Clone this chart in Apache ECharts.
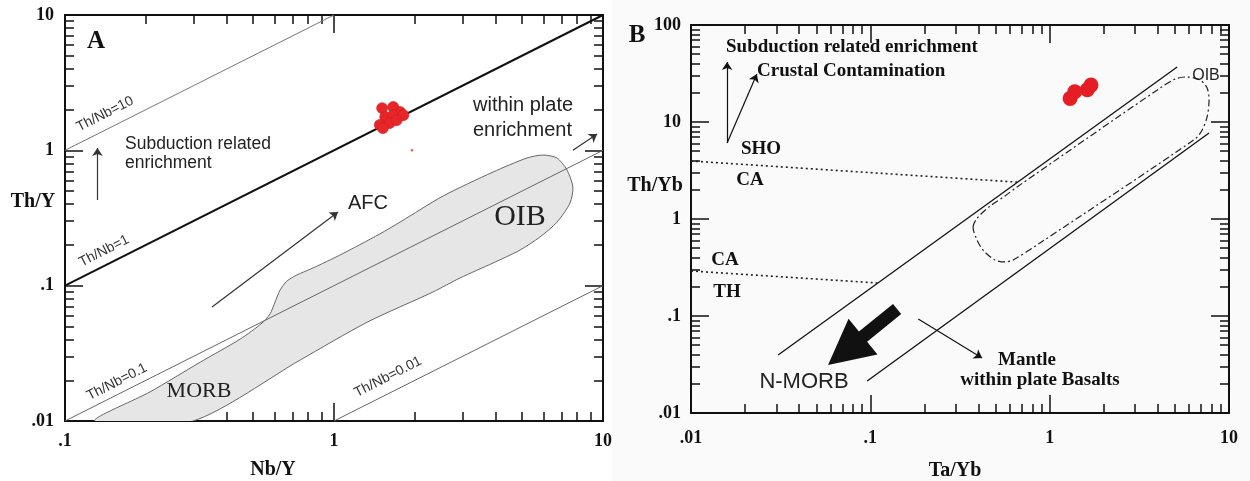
<!DOCTYPE html>
<html>
<head>
<meta charset="utf-8">
<title>Th/Y - Nb/Y and Th/Yb - Ta/Yb</title>
<script src="https://cdn.jsdelivr.net/npm/echarts@6.0.0/dist/echarts.min.js"></script>
<style>
  html, body { margin: 0; padding: 0; background: #fff; }
  #main { width: 1250px; height: 481px; }
</style>
</head>
<body>
<div id="main"></div>
<script>
// ---------------- panel A : Th/Y vs Nb/Y ----------------
var samplesA = [[1.51, 2.05], [1.66, 2.09], [1.76, 1.92], [1.55, 1.76], [1.66, 1.82],
  [1.81, 1.82], [1.48, 1.54], [1.61, 1.59], [1.52, 1.46], [1.71, 1.67]];
var strayA = [[1.95, 1.0]];
var thNb10 = [[0.1, 1], [1, 10]];
var thNb1 = [[0.1, 0.1], [10, 10]];
var thNb01 = [[0.1, 0.01], [10, 1]];
var thNb001 = [[1, 0.01], [10, 0.1]];
// MORB - OIB array outline
var morbOibField = [[0.129, 0.010], [0.207, 0.0164], [0.318, 0.0272], [0.448, 0.0403], [0.540, 0.0529],
  [0.578, 0.0617], [0.604, 0.0757], [0.630, 0.0928], [0.668, 0.108], [0.728, 0.120], [0.835, 0.135],
  [1.05, 0.168], [1.48, 0.241], [1.76, 0.295], [2.54, 0.459], [3.90, 0.691], [5.21, 0.877],
  [5.98, 0.923], [6.75, 0.877], [7.35, 0.715], [7.73, 0.535], [7.54, 0.408], [6.75, 0.295],
  [5.83, 0.229], [4.91, 0.183], [3.90, 0.147], [2.94, 0.114], [2.33, 0.0897], [1.33, 0.0538],
  [0.748, 0.0282], [0.299, 0.010]];
// subduction, AFC, within plate
var arrowsA = [[[0.132, 0.429], [0.132, 1.04]], [[0.352, 0.0695], [1.035, 0.350]], [[7.73, 1.0], [9.51, 1.32]]];

// ---------------- panel B : Th/Yb vs Ta/Yb ----------------
var samplesB = [[1.30, 17.5], [1.38, 20.5], [1.62, 21.5], [1.70, 24.0]];
var mantleUpper = [[0.0306, 0.0396], [5.14, 36.9]];
var mantleLower = [[0.096, 0.0214], [7.74, 7.71]];
var shoCa = [[0.01, 3.96], [0.658, 2.40]];
var caTh = [[0.01, 0.291], [0.110, 0.219]];
var oibFieldB = [[0.374, 0.828], [0.394, 1.02], [0.466, 1.36], [0.564, 1.73], [0.658, 2.14],
  [4.13, 22.4], [5.00, 27.7], [5.83, 29.1], [6.90, 27.1], [7.55, 22.4], [7.74, 16.9], [7.55, 11.3],
  [7.08, 8.28], [6.47, 6.68], [0.883, 0.566], [0.625, 0.378], [0.564, 0.361], [0.496, 0.378],
  [0.425, 0.479], [0.389, 0.637]];
// subduction, crustal contamination, mantle within plate
var arrowsB = [[[0.0159, 6.08], [0.0159, 41.6]], [[0.0159, 6.08], [0.0233, 31.3]], [[0.185, 0.0931], [0.420, 0.0369]]];
var nmorbArrow = [[0.141, 0.118, 0.0581, 0.0313]];

// axes
var xTicksA = [0.1, 1, 10], xLabelsA = ['.1', '1', '10'];
var yTicksA = [0.01, 0.1, 1, 10], yLabelsA = ['.01', '.1', '1', '10'];
var xTicksB = [0.01, 0.1, 1, 10], xLabelsB = ['.01', '.1', '1', '10'];
var yTicksB = [0.01, 0.1, 1, 10, 100], yLabelsB = ['.01', '.1', '1', '10', '100'];
var minorSteps = [2, 3, 4, 5, 6, 7, 8, 9];

var SERIF = 'Liberation Serif';
var SANS = 'Liberation Sans';
var TICK_LINE = { color: '#111', width: 1.5 };

function labeler(ticks, labels) {
  return function (v) {
    for (var i = 0; i < ticks.length; i++) {
      if (Math.abs(Math.log10(v) - Math.log10(ticks[i])) < 1e-6) return labels[i];
    }
    return '';
  };
}

function minorsOf(ticks) {
  var out = [];
  for (var i = 0; i < ticks.length - 1; i++) {
    minorSteps.forEach(function (m) { out.push(ticks[i] * m); });
  }
  return out;
}

function renderField(points, style, smooth) {
  return function (params, api) {
    if (params.dataIndex !== 0) return;
    var pts = points.map(function (d) { return api.coord(d); });
    return { type: 'polygon', shape: { points: pts, smooth: smooth }, style: style };
  };
}

function renderBigArrow(params, api) {
  var s = api.coord([api.value(0), api.value(1)]);
  var t = api.coord([api.value(2), api.value(3)]);
  var dx = t[0] - s[0], dy = t[1] - s[1];
  var L = Math.sqrt(dx * dx + dy * dy);
  var ux = dx / L, uy = dy / L, nx = -uy, ny = ux;
  var head = 45, hw = 23, sw = 6.5;
  var bx = t[0] - ux * head, by = t[1] - uy * head;
  var pts = [
    [s[0] + nx * sw, s[1] + ny * sw], [bx + nx * sw, by + ny * sw], [bx + nx * hw, by + ny * hw],
    t, [bx - nx * hw, by - ny * hw], [bx - nx * sw, by - ny * sw], [s[0] - nx * sw, s[1] - ny * sw]
  ];
  return { type: 'polygon', shape: { points: pts }, style: { fill: '#111' } };
}

function lineSeries(data, xi, color, width, type, z) {
  return {
    type: 'line', xAxisIndex: xi, yAxisIndex: xi, data: data, showSymbol: false, symbol: 'none',
    lineStyle: { color: color, width: width, type: type || 'solid' }, z: z || 3, silent: true
  };
}

function arrowSeries(arrows, xi, color) {
  return {
    type: 'lines', coordinateSystem: 'cartesian2d', xAxisIndex: xi, yAxisIndex: xi,
    symbol: ['none', 'arrow'], symbolSize: 8, silent: true, z: 4,
    lineStyle: { color: color, width: 1.2, opacity: 1 },
    data: arrows.map(function (a) { return { coords: a }; })
  };
}

// main axis: labels + long inward decade ticks
function logAxis(ticks, labels, gi, margin) {
  return {
    type: 'log', logBase: 10, gridIndex: gi, min: ticks[0], max: ticks[ticks.length - 1],
    axisLine: { show: false }, splitLine: { show: false },
    axisTick: { show: true, inside: true, length: 18, lineStyle: TICK_LINE },
    axisLabel: {
      show: true, margin: margin, color: '#111', fontFamily: SERIF, fontWeight: 'bold', fontSize: 18,
      showMinLabel: true, showMaxLabel: true, formatter: labeler(ticks, labels)
    }
  };
}

// extra tick-only axis on a given side; values = null -> decade ticks
function tickAxis(ticks, gi, pos, values, len) {
  var tick = { show: true, inside: true, length: len, lineStyle: TICK_LINE };
  if (values) tick.customValues = values;
  return {
    type: 'log', logBase: 10, gridIndex: gi, position: pos, min: ticks[0], max: ticks[ticks.length - 1],
    axisLine: { show: false }, splitLine: { show: false }, axisLabel: { show: false }, axisTick: tick
  };
}

function txt(x, y, text, size, family, opts) {
  opts = opts || {};
  return {
    type: 'text', x: x, y: y, z: 100, rotation: opts.rot ? opts.rot * Math.PI / 180 : 0,
    style: {
      text: text, fontSize: size, fontFamily: family, fontWeight: opts.bold ? 'bold' : 'normal',
      fill: opts.color || '#111', align: opts.align || 'center', verticalAlign: 'middle'
    }
  };
}

var labelsGraphic = [
  { type: 'rect', x: 612, y: 0, z: -10, shape: { width: 638, height: 481 }, style: { fill: '#fafafa' } },
  // panel A
  txt(96, 42, 'A', 25, SERIF, { bold: true }),
  txt(105, 114, 'Th/Nb=10', 14, SANS, { rot: 27, color: '#333' }),
  txt(104, 251, 'Th/Nb=1', 14, SANS, { rot: 27, color: '#333' }),
  txt(117, 382, 'Th/Nb=0.1', 14, SANS, { rot: 27, color: '#333' }),
  txt(388, 377, 'Th/Nb=0.01', 14, SANS, { rot: 27, color: '#333' }),
  txt(125, 144, 'Subduction related', 17.5, SANS, { align: 'left', color: '#222' }),
  txt(125, 163, 'enrichment', 17.5, SANS, { align: 'left', color: '#222' }),
  txt(473, 105, 'within plate', 20, SANS, { align: 'left', color: '#222' }),
  txt(473, 130, 'enrichment', 20, SANS, { align: 'left', color: '#222' }),
  txt(368, 203, 'AFC', 20, SANS, { color: '#222' }),
  txt(520, 217, 'OIB', 30, SERIF, { color: '#222' }),
  txt(199, 391, 'MORB', 22, SERIF, { color: '#222' }),
  txt(33, 202, 'Th/Y', 20, SERIF, { bold: true }),
  txt(273, 470, 'Nb/Y', 20, SERIF, { bold: true }),
  // panel B
  txt(637, 36, 'B', 25, SERIF, { bold: true }),
  txt(726, 47, 'Subduction related enrichment', 19, SERIF, { bold: true, align: 'left' }),
  txt(757, 71, 'Crustal Contamination', 19, SERIF, { bold: true, align: 'left' }),
  txt(761, 149, 'SHO', 19, SERIF, { bold: true }),
  txt(750, 180, 'CA', 19, SERIF, { bold: true }),
  txt(725, 260, 'CA', 19, SERIF, { bold: true }),
  txt(727, 292, 'TH', 19, SERIF, { bold: true }),
  txt(804, 382, 'N-MORB', 22, SANS, { color: '#222' }),
  txt(1027, 360, 'Mantle', 19, SERIF, { bold: true }),
  txt(1040, 380, 'within plate Basalts', 19, SERIF, { bold: true }),
  txt(1206, 76, 'OIB', 16, SANS, { color: '#222' }),
  txt(655, 186, 'Th/Yb', 20, SERIF, { bold: true }),
  txt(955, 471, 'Ta/Yb', 20, SERIF, { bold: true })
];

var myChart = echarts.init(document.getElementById('main'));

var option = {
  animation: false,
  backgroundColor: '#fff',
  grid: [
    { left: 65, top: 15, width: 538, height: 406, show: true, borderColor: '#111', borderWidth: 2,
      backgroundColor: 'transparent', outerBoundsMode: 'none' },
    { left: 691, top: 25, width: 538, height: 388, show: true, borderColor: '#111', borderWidth: 2,
      backgroundColor: 'transparent', outerBoundsMode: 'none' }
  ],
  // 0,1 carry the series; the rest only draw frame ticks
  xAxis: [
    logAxis(xTicksA, xLabelsA, 0, 11), logAxis(xTicksB, xLabelsB, 1, 16),
    tickAxis(xTicksA, 0, 'top', null, 18), tickAxis(xTicksB, 1, 'top', null, 18),
    tickAxis(xTicksA, 0, 'bottom', minorsOf(xTicksA), 9), tickAxis(xTicksB, 1, 'bottom', minorsOf(xTicksB), 9),
    tickAxis(xTicksA, 0, 'top', minorsOf(xTicksA), 9), tickAxis(xTicksB, 1, 'top', minorsOf(xTicksB), 9)
  ],
  yAxis: [
    logAxis(yTicksA, yLabelsA, 0, 11), logAxis(yTicksB, yLabelsB, 1, 10),
    tickAxis(yTicksA, 0, 'right', null, 18), tickAxis(yTicksB, 1, 'right', null, 18),
    tickAxis(yTicksA, 0, 'left', minorsOf(yTicksA), 9), tickAxis(yTicksB, 1, 'left', minorsOf(yTicksB), 9),
    tickAxis(yTicksA, 0, 'right', minorsOf(yTicksA), 9), tickAxis(yTicksB, 1, 'right', minorsOf(yTicksB), 9)
  ],
  graphic: { elements: labelsGraphic },
  series: [
    // panel A
    {
      type: 'custom', xAxisIndex: 0, yAxisIndex: 0, clip: true, z: 1, silent: true,
      renderItem: renderField(morbOibField, { fill: '#e6e6e6', stroke: '#666', lineWidth: 1 }, 0.25),
      data: morbOibField
    },
    lineSeries(thNb10, 0, '#777', 1),
    lineSeries(thNb1, 0, '#111', 2),
    lineSeries(thNb01, 0, '#666', 1),
    lineSeries(thNb001, 0, '#666', 1),
    arrowSeries(arrowsA, 0, '#333'),
    {
      type: 'scatter', xAxisIndex: 0, yAxisIndex: 0, data: samplesA, symbolSize: 11, z: 5,
      itemStyle: { color: '#e8262a', borderColor: '#cc1d1d', borderWidth: 0.6, opacity: 1 }
    },
    {
      type: 'scatter', xAxisIndex: 0, yAxisIndex: 0, data: strayA, symbolSize: 2.5, z: 5,
      itemStyle: { color: '#e8262a' }
    },
    // panel B
    {
      type: 'custom', xAxisIndex: 1, yAxisIndex: 1, clip: true, z: 2, silent: true,
      renderItem: renderField(oibFieldB, { fill: 'none', stroke: '#222', lineWidth: 1.2, lineDash: [7, 3, 2, 3] }, 0.3),
      data: oibFieldB
    },
    lineSeries(mantleUpper, 1, '#111', 1.3),
    lineSeries(mantleLower, 1, '#111', 1.3),
    lineSeries(shoCa, 1, '#222', 1.6, [2, 3]),
    lineSeries(caTh, 1, '#222', 1.6, [2, 3]),
    arrowSeries(arrowsB, 1, '#111'),
    { type: 'custom', xAxisIndex: 1, yAxisIndex: 1, z: 4, silent: true, renderItem: renderBigArrow,
      data: nmorbArrow },
    {
      type: 'scatter', xAxisIndex: 1, yAxisIndex: 1, data: samplesB, symbolSize: 15, z: 5,
      itemStyle: { color: '#e41e24', opacity: 1 }
    }
  ]
};

myChart.setOption(option);
</script>
</body>
</html>
